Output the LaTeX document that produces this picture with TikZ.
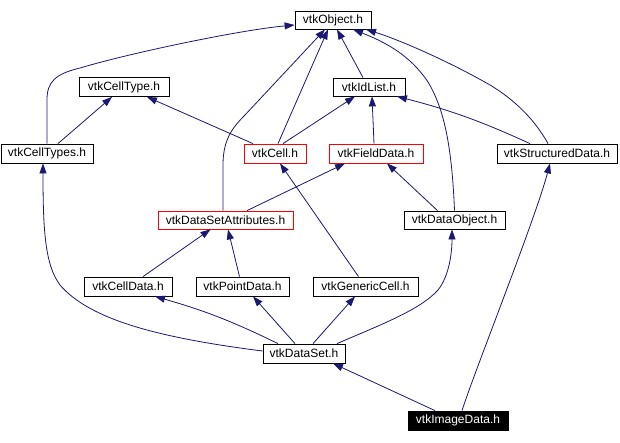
\documentclass[tikz,border=0pt]{standalone}
\usepackage{fontspec}
\setmainfont{Liberation Sans}
\usetikzlibrary{arrows.meta}
\definecolor{edgeblue}{RGB}{25,25,112}
\begin{document}
\begin{tikzpicture}[x=1pt,y=-1pt,
  box/.style={draw=black, line width=0.8pt, inner sep=0pt, minimum height=19pt,
    font=\fontsize{12}{14}\selectfont, anchor=center, fill=white},
  redbox/.style={box, draw=red},
  blackbox/.style={box, fill=black, text=white},
  dep/.style={draw=edgeblue, line width=0.8pt, -{Triangle[length=10pt,width=7pt]}}]
\fill[white] (0,0) rectangle (620,442);
\useasboundingbox (0,0) rectangle (620,442);

\node[box, minimum width=76pt, minimum height=18pt] (obj) at (333,20) {vtkObject.h};
\node[box, minimum width=90pt] (celltype) at (124,87) {vtkCellType.h};
\node[box, minimum width=72pt, minimum height=18pt] (idlist) at (369,87) {vtkIdList.h};
\node[box, minimum width=92pt] (celltypes) at (47,153.5) {vtkCellTypes.h};
\node[redbox, minimum width=62pt] (cell) at (275,153.5) {vtkCell.h};
\node[redbox, minimum width=94pt] (field) at (376,153.5) {vtkFieldData.h};
\node[box, minimum width=120pt] (struct) at (557,153.5) {vtkStructuredData.h};
\node[redbox, minimum width=135pt, minimum height=18pt] (dsattr) at (225.5,220) {vtkDataSetAttributes.h};
\node[box, minimum width=101pt, minimum height=18pt] (dobj) at (454.5,220) {vtkDataObject.h};
\node[box, minimum width=88pt] (celldata) at (128,286.5) {vtkCellData.h};
\node[box, minimum width=93pt] (pointdata) at (242.5,286.5) {vtkPointData.h};
\node[box, minimum width=105pt] (generic) at (365.5,286.5) {vtkGenericCell.h};
\node[box, minimum width=82pt] (dataset) at (304,353.5) {vtkDataSet.h};
\node[blackbox, minimum width=100pt] (image) at (458,420.5) {vtkImageData.h};

% edges
\draw[dep] (celltypes.north) -- (47,100) .. controls (47,82) and (55,74) .. (80,68)
  .. controls (130,53) and (240,30) .. ([yshift=-5pt]obj.west);
\draw[dep] ([xshift=11pt]celltypes.north) -- ([xshift=-12pt]celltype.south);
\draw[dep] ([xshift=-22pt]cell.north) -- ([xshift=23pt]celltype.south);
\draw[dep] ([xshift=3pt]cell.north) -- ([xshift=-5pt]obj.south);
\draw[dep] ([xshift=8pt]cell.north) -- ([xshift=-14pt]idlist.south);
\draw[dep] ([xshift=-2.5pt]dsattr.north) -- (223,165) .. controls (223,140) and (232,128) .. (245,115)
  -- ([xshift=-8pt]obj.south);
\draw[dep] ([xshift=21.5pt]dsattr.north) -- ([xshift=-31pt]field.south);
\draw[dep] ([xshift=-6pt]idlist.north) -- ([xshift=4pt]obj.south);
\draw[dep] ([xshift=-2pt]field.north) -- ([xshift=3pt]idlist.south);
\draw[dep] ([xshift=-9pt]struct.north) .. controls (535,120) and (515,100) .. (490,85)
  .. controls (450,62) and (400,40) .. ([xshift=33pt]obj.south);
\draw[dep] ([xshift=-27pt]struct.north) to[bend right=5] ([xshift=28pt]idlist.south);
\draw[dep] (dobj.north) .. controls (452,150) and (445,110) .. (428,82)
  .. controls (410,55) and (385,42) .. ([xshift=20pt]obj.south);
\draw[dep] ([xshift=-17pt]dobj.north) -- ([xshift=11pt]field.south);
\draw[dep] ([xshift=-7pt]generic.north) -- ([xshift=5pt]cell.south);
\draw[dep] ([xshift=15pt]celldata.north) -- ([xshift=-15pt]dsattr.south);
\draw[dep] ([xshift=-3pt]pointdata.north) -- ([xshift=2.5pt]dsattr.south);
\draw[dep] ([xshift=-26pt]dataset.north) to[bend right=5] ([xshift=27pt]celldata.south);
\draw[dep] ([xshift=-9pt]dataset.north) -- ([xshift=10.5pt]pointdata.south);
\draw[dep] ([xshift=9pt]dataset.north) -- ([xshift=-10.5pt]generic.south);
\draw[dep] ([xshift=33pt]dataset.north) .. controls (380,325) and (420,310) .. (438,290)
  .. controls (450,275) and (452,250) .. ([xshift=-2.5pt]dobj.south);
\draw[dep] ([yshift=2.5pt]dataset.west) .. controls (160,338) and (90,320) .. (60,285)
  .. controls (45,265) and (43,230) .. ([xshift=-4pt]celltypes.south);
\draw[dep] ([xshift=-23pt]image.north) -- ([xshift=29pt]dataset.south);
\draw[dep] ([xshift=4pt]image.north) .. controls (475,370) and (535,220) .. ([xshift=-7pt]struct.south);
\end{tikzpicture}
\end{document}
